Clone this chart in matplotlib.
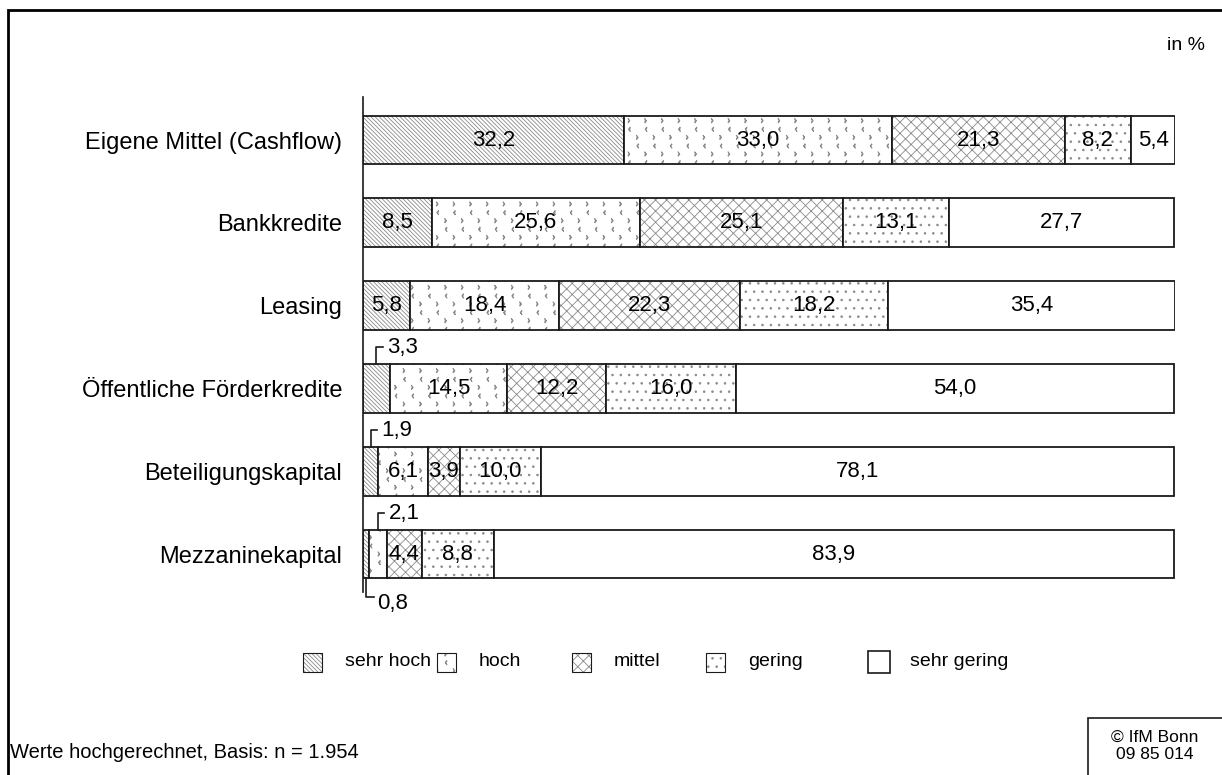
import numpy as np
import matplotlib
matplotlib.use('Agg')
import matplotlib.pyplot as plt
import matplotlib.hatch as mhatch
from matplotlib.path import Path
from matplotlib.patches import Rectangle

# Daten
kategorien = ['Eigene Mittel (Cashflow)', 'Bankkredite', 'Leasing',
              'Öffentliche Förderkredite', 'Beteiligungskapital', 'Mezzaninekapital']
sehr_hoch = [32.2, 8.5, 5.8, 3.3, 1.9, 0.8]
hoch = [33.0, 25.6, 18.4, 14.5, 6.1, 2.1]
mittel = [21.3, 25.1, 22.3, 12.2, 3.9, 4.4]
gering = [8.2, 13.1, 18.2, 16.0, 10.0, 8.8]
sehr_gering = [5.4, 27.7, 35.4, 54.0, 78.1, 83.9]
stufen = ['sehr hoch', 'hoch', 'mittel', 'gering', 'sehr gering']

plt.rcParams['font.family'] = ['Liberation Sans', 'DejaVu Sans']
plt.rcParams['hatch.linewidth'] = 0.6


# kleine Winkel "<" und ">" als Schraffur fuer "hoch" (ersetzt das Stern-Muster)
class Winkel(mhatch.Shapes):
    size = 1.0
    filled = False

    def __init__(self, hatch, density):
        self.num_rows = hatch.count('*') * 6  # muss gerade sein
        self.shape_vertices = np.array([[-0.2, 0.37], [-0.29, 0.25], [-0.2, 0.13],
                                        [0.2, -0.13], [0.29, -0.25], [0.2, -0.37]])
        self.shape_codes = np.array([Path.MOVETO, Path.LINETO, Path.LINETO,
                                     Path.MOVETO, Path.LINETO, Path.LINETO], dtype=Path.code_type)
        super().__init__(hatch, density)


mhatch._hatch_types[mhatch._hatch_types.index(mhatch.Stars)] = Winkel

muster = ['\\' * 8, '*', 'xxx', '..', '']
hatch_farbe = '#8a8a8a'
rand_farbe = '#1a1a1a'
fs_kat = 17
fs_wert = 16
fs = 14

W, H = 1222, 775
fig = plt.figure(figsize=(W / 100, H / 100), dpi=100)
ax = fig.add_axes([363 / W, 1 - 592 / H, 812 / W, 495 / H])

y = np.arange(len(kategorien))
werte = [sehr_hoch, hoch, mittel, gering, sehr_gering]
links = np.zeros(len(kategorien))
hoehe = 0.59
for w, m in zip(werte, muster):
    w = np.array(w)
    ax.barh(y, w, left=links, height=hoehe, color='white', edgecolor=hatch_farbe,
            hatch=m, linewidth=0)
    ax.barh(y, w, left=links, height=hoehe, fill=False, edgecolor=rand_farbe, linewidth=1.3)
    for yi in y:
        v = w[yi]
        mitte = links[yi] + v / 2
        txt = f'{v:.1f}'.replace('.', ',')
        if v >= 3.5:
            ax.text(mitte, yi, txt, ha='center', va='center', fontsize=fs_wert)
        elif yi == 5 and m == muster[0]:
            # Beschriftung unterhalb des Balkens
            y0 = yi + hoehe / 2
            ax.plot([mitte, mitte, mitte + 1.0], [y0, y0 + 0.22, y0 + 0.22],
                    color=rand_farbe, lw=1.2, clip_on=False)
            ax.text(mitte + 1.3, y0 + 0.3, txt, ha='left', va='center', fontsize=fs_wert)
        else:
            y0 = yi - hoehe / 2
            ax.plot([mitte, mitte, mitte + 0.8], [y0, y0 - 0.2, y0 - 0.2],
                    color=rand_farbe, lw=1.2, clip_on=False)
            ax.text(mitte + 1.3, y0 - 0.2, txt, ha='left', va='center', fontsize=fs_wert)
    links += w

ax.set_xlim(0, 100.1)
ax.set_ylim(5 + 38 / 82.8, -0.52)
ax.set_yticks(y)
ax.set_yticklabels(kategorien, fontsize=fs_kat)
ax.tick_params(axis='y', length=0, pad=15)
ax.set_xticks([])
for s in ['top', 'right', 'bottom']:
    ax.spines[s].set_visible(False)
ax.spines['left'].set_color(rand_farbe)
ax.spines['left'].set_linewidth(1.2)

# Legende
leg_x = [303, 437, 572, 706, 868]
for lx, name, m in zip(leg_x, stufen, muster):
    gr = 22 if m == '' else 19
    yb = 1 - (662 + gr / 2) / H
    fig.patches.append(Rectangle((lx / W, yb), gr / W, gr / H, transform=fig.transFigure,
                                 facecolor='white', edgecolor=hatch_farbe, hatch=m, lw=0))
    fig.patches.append(Rectangle((lx / W, yb), gr / W, gr / H, transform=fig.transFigure,
                                 fill=False, edgecolor=rand_farbe, lw=1.2 if m == '' else 0.8))
    fig.text((lx + 42) / W, 1 - 662 / H, name, ha='left', va='center', fontsize=fs)

# Rahmen und Texte
fig.patches.append(Rectangle((8 / W, -0.1), 1.2, 1.1 - 10 / H, transform=fig.transFigure,
                             fill=False, edgecolor='black', lw=2))
fig.text(1205 / W, 1 - 45 / H, 'in %', ha='right', va='center', fontsize=14)
fig.text(10 / W, 1 - 752 / H, 'Werte hochgerechnet, Basis: n = 1.954',
         ha='left', va='center', fontsize=14.5)
fig.patches.append(Rectangle((1088 / W, -0.1), 0.2, 0.1 + 57 / H, transform=fig.transFigure,
                             fill=False, edgecolor=rand_farbe, lw=1.2))
fig.text(1155 / W, 1 - 746 / H, '© IfM Bonn\n09 85 014', ha='center', va='center',
         fontsize=12.5, linespacing=1.2)

fig.savefig('out.png', dpi=100)
